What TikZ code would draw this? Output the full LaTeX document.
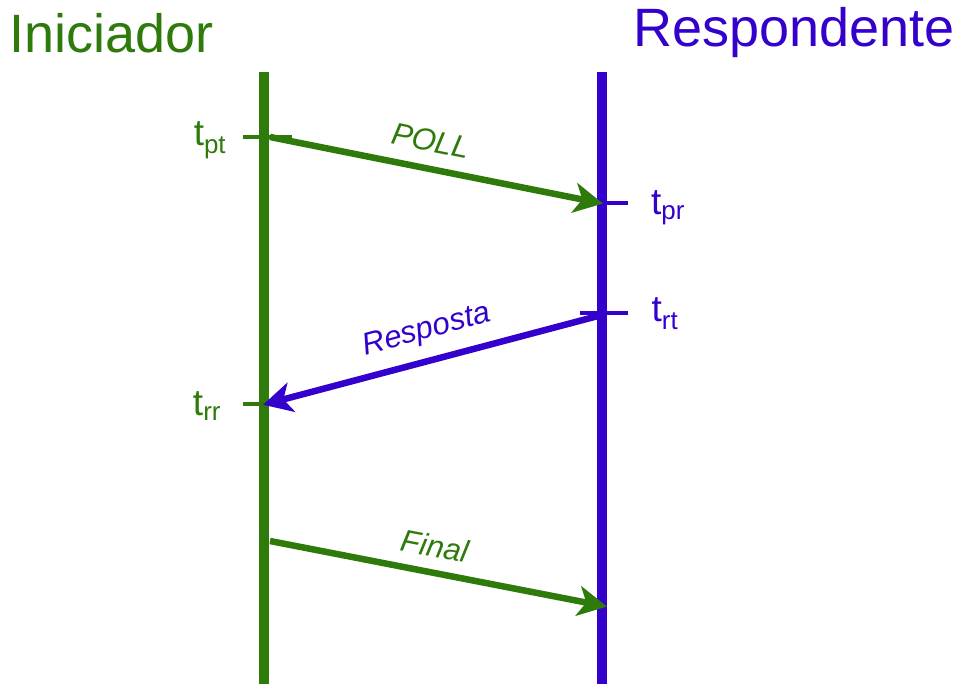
\documentclass[tikz,border=0pt]{standalone}
\usepackage{fontspec}
\setmainfont{Liberation Sans}
\usetikzlibrary{arrows.meta}
\definecolor{ini}{RGB}{46,122,10}
\definecolor{resp}{RGB}{51,0,204}
\begin{document}
\begin{tikzpicture}[x=1pt,y=-1pt,
  lifeline/.style={line width=10pt},
  tick/.style={line width=4pt},
  msg/.style={line width=6.5pt,-{Stealth[length=29pt,width=30pt,inset=8pt]},shorten >=-3pt},
  title/.style={font=\fontsize{54}{54}\selectfont,inner sep=0pt},
  tlabel/.style={font=\fontsize{37}{37}\selectfont,inner sep=0pt},
  msglabel/.style={font=\fontsize{31}{31}\selectfont\itshape,inner sep=0pt}]
\useasboundingbox (0,0) rectangle (959,684);
% lifelines
\coordinate (iTop) at (264,72);  \coordinate (iBot) at (264,684);
\coordinate (rTop) at (602,72);  \coordinate (rBot) at (602,684);
\draw[lifeline,ini] (iTop) -- (iBot);
\draw[lifeline,resp] (rTop) -- (rBot);
% titles
\node[title,text=ini,anchor=west] (tIni) at (9,33) {Iniciador};
\node[title,text=resp,anchor=east] (tResp) at (955,33) {Respondente};
% time marks
\coordinate (pt) at (264,137);
\coordinate (pr) at (600,203);
\coordinate (rt) at (602,313);
\coordinate (rr) at (266,404);
\draw[tick,ini] (243,137) -- (292,137);
\draw[tick,resp] (580,203) -- (628,203);
\draw[tick,resp] (580,313) -- (628,313);
\draw[tick,ini] (243,404) -- (264,404);
\node[tlabel,text=ini] (lpt) at (210,140) {t\textsubscript{pt}};
\node[tlabel,text=resp] (lpr) at (668,208) {t\textsubscript{pr}};
\node[tlabel,text=resp] (lrt) at (665,314) {t\textsubscript{rt}};
\node[tlabel,text=ini] (lrr) at (207,406) {t\textsubscript{rr}};
% messages
\coordinate (fs) at (270,541);
\coordinate (fe) at (604,606);
\draw[msg,ini] (270,137) -- (pr);
\draw[msg,resp] (598,316) -- (rr);
\draw[msg,ini] (fs) -- (fe);
\node[msglabel,text=ini,rotate=-11.4] (lpoll) at (431,141) {POLL};
\node[msglabel,text=resp,rotate=15] (lresp) at (427,331) {Resposta};
\node[msglabel,text=ini,rotate=-11] (lfin) at (435,546) {Final};
\end{tikzpicture}
\end{document}
